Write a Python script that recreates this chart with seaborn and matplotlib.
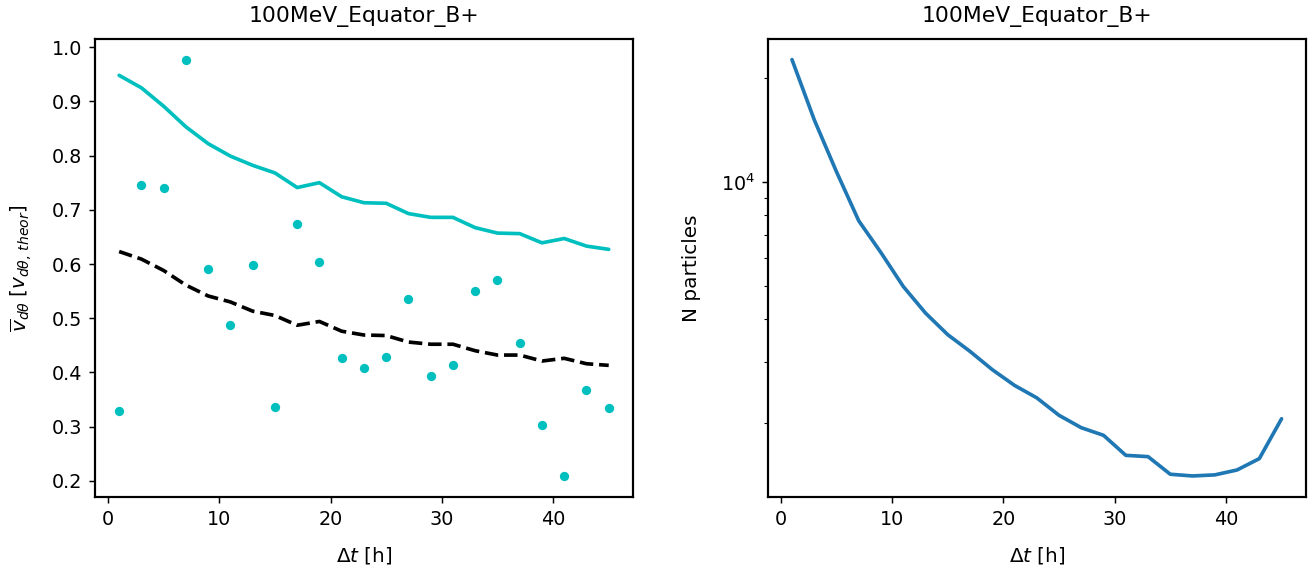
import matplotlib
matplotlib.use("Agg")
import matplotlib.pyplot as plt
import numpy as np
import pandas as pd
import seaborn as sns

TITLE = "100MeV_Equator_B+"

dt_hours = [1, 3, 5, 7, 9, 11, 13, 15, 17, 19, 21, 23, 25, 27, 29, 31, 33, 35, 37, 39, 41, 43, 45]

# scattered mean drift velocity per bin
v_points = [0.329, 0.746, 0.740, 0.977, 0.590, 0.487, 0.599, 0.336, 0.674, 0.603, 0.426, 0.409,
            0.429, 0.535, 0.394, 0.413, 0.550, 0.570, 0.455, 0.303, 0.209, 0.368, 0.335]
# upper (solid) and lower (dashed) curves
v_upper = [0.948, 0.925, 0.891, 0.853, 0.822, 0.799, 0.782, 0.768, 0.741, 0.750, 0.724, 0.713,
           0.712, 0.693, 0.686, 0.686, 0.667, 0.657, 0.656, 0.639, 0.647, 0.633, 0.627]
v_lower = [0.623, 0.609, 0.588, 0.561, 0.541, 0.530, 0.513, 0.505, 0.487, 0.494, 0.476, 0.469,
           0.468, 0.456, 0.452, 0.452, 0.440, 0.432, 0.432, 0.421, 0.426, 0.416, 0.413]

n_particles = [22650, 15150, 10700, 7710, 6230, 4970, 4160, 3600, 3220, 2850, 2565, 2360,
               2100, 1933, 1837, 1607, 1593, 1416, 1400, 1410, 1457, 1572, 2052]

df = pd.DataFrame({
    "dt": dt_hours,
    "v_points": v_points,
    "v_upper": v_upper,
    "v_lower": v_lower,
    "n": n_particles,
})

sns.set_style("ticks", {
    "axes.edgecolor": "black",
    "text.color": "black",
    "axes.labelcolor": "black",
    "xtick.color": "black",
    "ytick.color": "black",
})
plt.rcParams["font.family"] = ["DejaVu Sans"]
plt.rcParams["axes.linewidth"] = 1.2

fig, (ax1, ax2) = plt.subplots(1, 2, figsize=(10.0, 4.349), dpi=131.3)
fig.subplots_adjust(left=0.0721, right=0.9947, bottom=0.13, top=0.932, wspace=0.2494)

sns.lineplot(data=df, x="dt", y="v_upper", ax=ax1, color="c", linewidth=2.0)
sns.lineplot(data=df, x="dt", y="v_lower", ax=ax1, color="k", linewidth=2.0, linestyle="--")
sns.scatterplot(data=df, x="dt", y="v_points", ax=ax1, color="c", s=26, linewidth=0)
ax1.set_title(TITLE, fontsize=12, pad=9.5)
ax1.set_xlabel(r"$\Delta t$ [h]", fontsize=11, labelpad=9)
ax1.set_ylabel(r"$\overline{v}_{d\theta}\;[v_{d\theta,\,theor}]$", fontsize=11, labelpad=9.5)
ax1.set_xticks([0, 10, 20, 30, 40])
ax1.set_yticks([0.2, 0.3, 0.4, 0.5, 0.6, 0.7, 0.8, 0.9, 1.0])
ax1.tick_params(labelsize=10.5)

sns.lineplot(data=df, x="dt", y="n", ax=ax2, color="C0", linewidth=2.0)
ax2.set_yscale("log")
ax2.set_title(TITLE, fontsize=12, pad=9.5)
ax2.set_xlabel(r"$\Delta t$ [h]", fontsize=11, labelpad=9)
ax2.set_ylabel("N particles", fontsize=11, labelpad=10.5)
ax2.set_xticks([0, 10, 20, 30, 40])
ax2.tick_params(labelsize=10.5)

for ax in (ax1, ax2):
    ax.margins(x=0.05, y=0.05)

fig.savefig("out.png", dpi=131.3)
